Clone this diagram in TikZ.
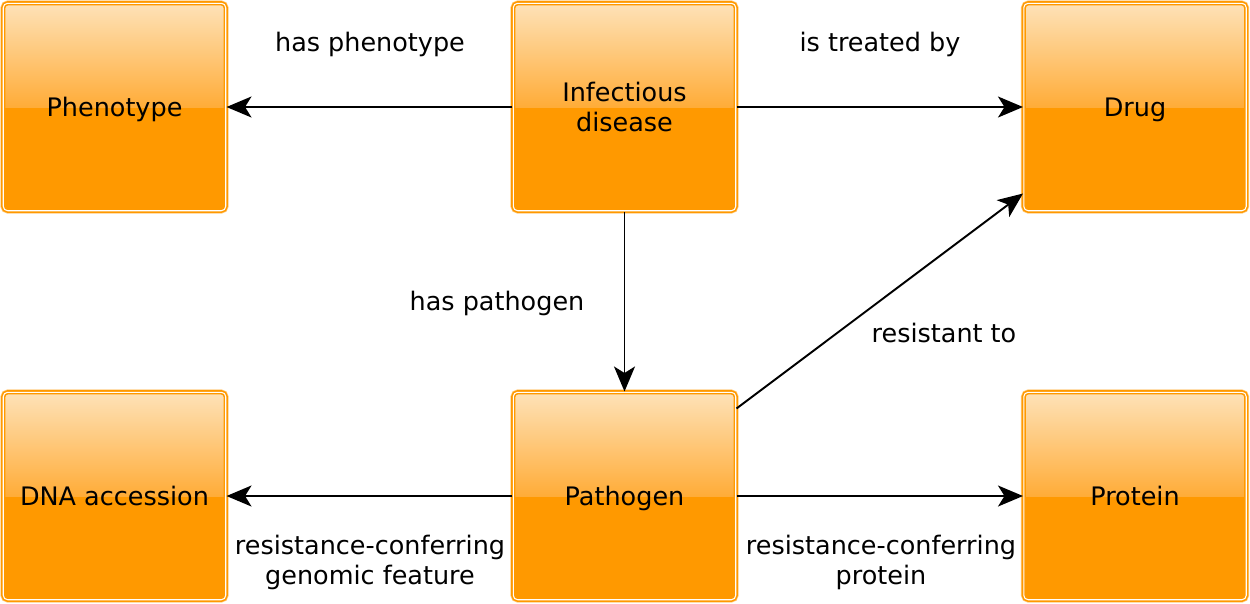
\documentclass[tikz,border=0pt]{standalone}
\usepackage{fontspec}
\setmainfont{DejaVu Sans}
\usetikzlibrary{arrows.meta}
\definecolor{boxedge}{RGB}{255,153,0}
\definecolor{boxhalo}{RGB}{255,205,130}
\definecolor{boxfill}{RGB}{255,153,0}
\definecolor{boxtop}{RGB}{254,226,184}
\definecolor{boxmid}{RGB}{255,172,56}
\newcommand{\txtstrut}{\rule[-0.24em]{0pt}{1.2em}}
\tikzset{
    entitybox/.style={draw=boxedge, line width=0.9pt, double=white, double distance=0.6pt,
        rounded corners=2.5pt, minimum width=4.45cm, minimum height=4.15cm, align=center,
        preaction={draw=boxhalo, line width=3.2pt},
        path picture={
            \fill[boxfill, sharp corners] (path picture bounding box.west) rectangle (path picture bounding box.south east);
            \shade[top color=boxtop, bottom color=boxmid, sharp corners] (path picture bounding box.north west) rectangle (path picture bounding box.east);
        }},
    entity/.style={entitybox, execute at begin node=\txtstrut},
    relation/.style={-{Stealth[length=0.5cm,width=0.42cm,inset=0.13cm]}, line width=1.1pt},
    rellabel/.style={align=center, execute at begin node=\txtstrut}
}
\begin{document}
\begin{tikzpicture}[x=0.02cm,y=-0.02cm,font=\fontsize{14.5}{17}\selectfont]
        \useasboundingbox (0,0) rectangle (1250,603);
        % top row
        \node[entity] (phenotype) at (114.5,107) {Phenotype};
        \node[entitybox] (disease) at (624.5,107) {Infectious\\disease};
        \node[entity] (drug) at (1135,107) {Drug};
        % bottom row
        \node[entity] (dna) at (114.5,496) {DNA accession};
        \node[entity] (pathogen) at (624.5,496) {Pathogen};
        \node[entity] (protein) at (1135,496) {Protein};
        % relations
        \draw[relation] (disease) -- (phenotype);
        \draw[relation] (disease) -- (drug);
        \draw[relation] (disease) -- (pathogen);
        \draw[relation] ([yshift=-0.34cm]pathogen.north east) -- ([yshift=0.36cm]drug.south west);
        \draw[relation] (pathogen) -- (dna);
        \draw[relation] (pathogen) -- (protein);
        % labels
        \node[rellabel] (lphen) at (370,42) {has phenotype};
        \node[rellabel] (ltreat) at (880,42) {is treated by};
        \node[rellabel] (lpath) at (497,301) {has pathogen};
        \node[rellabel] (lresist) at (944,333) {resistant to};
        \node[rellabel] (lgenome) at (370,563) {resistance-conferring\\genomic feature};
        \node[rellabel] (lprot) at (881,563) {resistance-conferring\\protein};
    \end{tikzpicture}
\end{document}
